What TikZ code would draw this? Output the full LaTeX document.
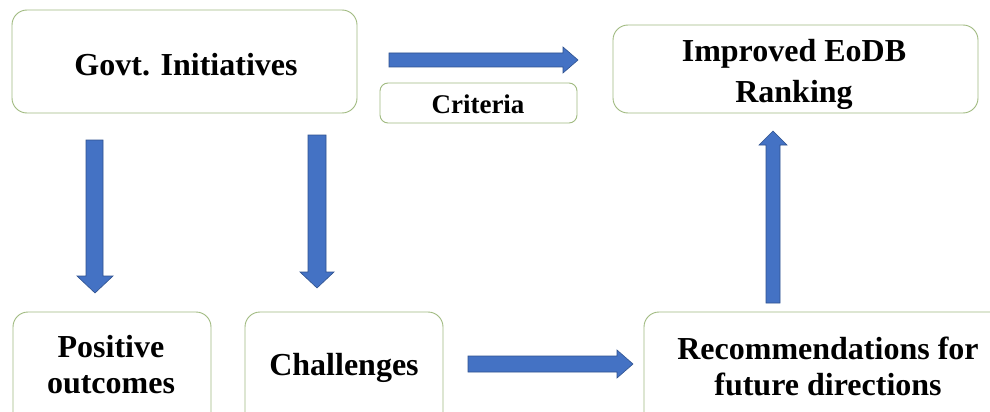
\documentclass[tikz,border=0pt]{standalone}
\usepackage{fontspec}
\setmainfont{Liberation Serif}
\definecolor{boxline}{RGB}{160,186,128}
\definecolor{arrfill}{RGB}{68,114,196}
\definecolor{arrline}{RGB}{47,82,143}
\tikzset{
  box/.style={draw=boxline, line width=0.9pt, rounded corners=15pt, fill=white, inner sep=0pt},
  smallbox/.style={draw=boxline, line width=0.9pt, rounded corners=8pt, fill=white, inner sep=0pt},
  lbl/.style={inner sep=0pt, anchor=base, align=center, font=\bfseries\fontsize{32}{40}\selectfont},
  lblb/.style={lbl, font=\bfseries\fontsize{32}{36}\selectfont},
  blockarrow/.style={fill=arrfill, draw=arrline, line width=0.6pt, line join=miter}
}
\begin{document}
\begin{tikzpicture}[x=1pt,y=-1pt]
\useasboundingbox (0,0) rectangle (990,412);
\clip (0,0) rectangle (990,412);
\fill[white] (0,0) rectangle (990,412);
% boxes
\node[box, minimum width=345pt, minimum height=103pt] (govt) at (184.5,61.5) {};
\node[smallbox, minimum width=197pt, minimum height=40pt] (crit) at (478.5,103) {};
\node[box, minimum width=365pt, minimum height=88pt] (eodb) at (795.5,69) {};
\node[box, minimum width=198pt, minimum height=130pt] (pos) at (112,377) {};
\node[box, minimum width=198pt, minimum height=130pt] (chal) at (344,377) {};
\node[box, minimum width=370pt, minimum height=130pt] (rec) at (829,377) {};
% texts
\node[lbl] (govtT) at (186,75) {Govt. Initiatives};
\node[lbl, font=\bfseries\fontsize{27}{32}\selectfont] (critT) at (478,113) {Criteria};
\node[lbl] (eodbT) at (794,102) {Improved EoDB\\Ranking};
\node[lblb] (posT) at (111,393) {Positive\\outcomes};
\node[lblb] (chalT) at (344,375) {Challenges};
\node[lblb] (recT) at (828,395) {Recommendations for\\future directions};
% block arrows
\draw[blockarrow] (389,53) coordinate (a1s) -- (563,53) -- (563,47) -- (578,60) coordinate (a1t) -- (563,73) -- (563,67) -- (389,67) -- cycle;
\draw[blockarrow] (86,140) coordinate (a2s) -- (103,140) -- (103,276) -- (113,276) -- (95,293) coordinate (a2t) -- (77,276) -- (86,276) -- cycle;
\draw[blockarrow] (308,135) coordinate (a3s) -- (326,135) -- (326,272) -- (334,272) -- (317,288) coordinate (a3t) -- (300,272) -- (308,272) -- cycle;
\draw[blockarrow] (766,303) coordinate (a4s) -- (780,303) -- (780,145) -- (787,145) -- (773,131) coordinate (a4t) -- (759,145) -- (766,145) -- cycle;
\draw[blockarrow] (468,356) coordinate (a5s) -- (617,356) -- (617,350) -- (633,364) coordinate (a5t) -- (617,378) -- (617,372) -- (468,372) -- cycle;
\end{tikzpicture}
\end{document}
